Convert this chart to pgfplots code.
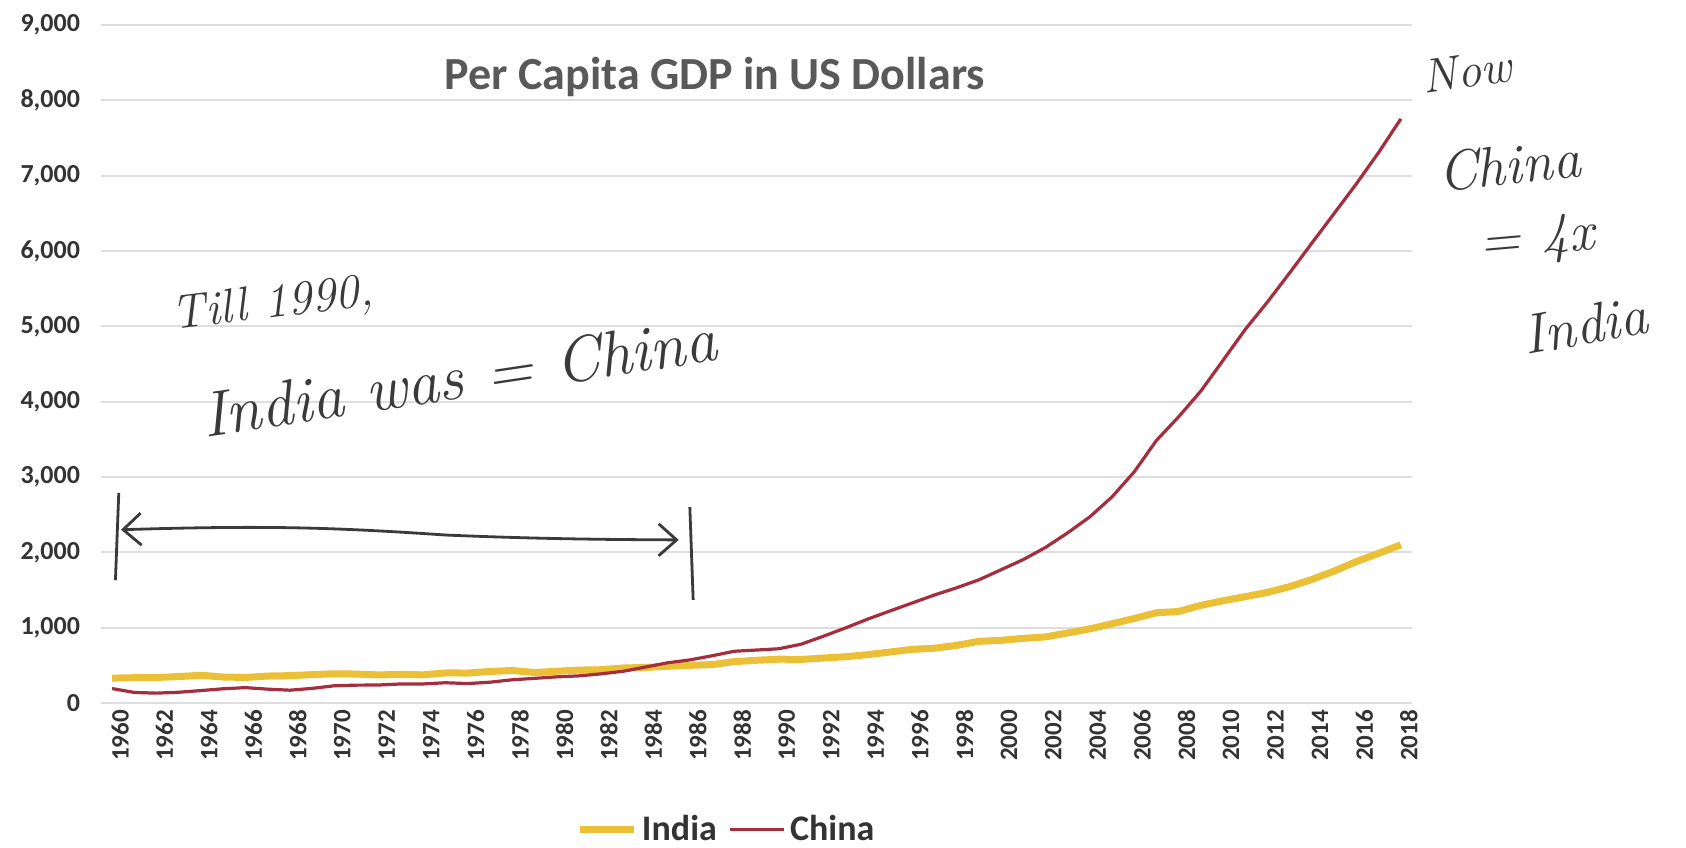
\documentclass[border=0pt]{standalone}
\usepackage{fontspec}
\setmainfont{Carlito}
\newfontfamily\hand{Latin Modern Roman}
\usepackage{pgfplots}
\usepackage{pgfplotstable}
\pgfplotsset{compat=1.18}
\usetikzlibrary{arrows.meta}
\definecolor{indiac}{HTML}{EBBF36}
\definecolor{chinac}{HTML}{A52E3E}
\definecolor{gridc}{HTML}{DEDEDE}
\definecolor{tickc}{HTML}{333333}
\definecolor{titlec}{HTML}{595959}
\definecolor{handc}{HTML}{3A3A3A}

\pgfplotstableread{
year gdp
1960 330
1961 336
1962 339
1963 351
1964 368
1965 345
1966 339
1967 358
1968 363
1969 377
1970 388
1971 384
1972 373
1973 380
1974 374
1975 399
1976 398
1977 418
1978 432
1979 405
1980 421
1981 437
1982 442
1983 465
1984 472
1985 487
1986 500
1987 510
1988 549
1989 567
1990 582
1991 578
1992 597
1993 614
1994 642
1995 676
1996 712
1997 727
1998 765
1999 818
2000 832
2001 858
2002 877
2003 930
2004 984
2005 1052
2006 1122
2007 1198
2008 1215
2009 1296
2010 1358
2011 1412
2012 1469
2013 1545
2014 1640
2015 1752
2016 1878
2017 1987
2018 2100
}\india

\pgfplotstableread{
year gdp
1960 192
1961 140
1962 131
1963 143
1964 165
1965 189
1966 204
1967 184
1968 170
1969 194
1970 229
1971 237
1972 239
1973 253
1974 253
1975 269
1976 258
1977 276
1978 308
1979 327
1980 347
1981 360
1982 387
1983 421
1984 477
1985 534
1986 572
1987 627
1988 687
1989 703
1990 720
1991 780
1992 885
1993 996
1994 1113
1995 1221
1996 1327
1997 1433
1998 1529
1999 1634
2000 1768
2001 1903
2002 2064
2003 2258
2004 2471
2005 2736
2006 3069
2007 3486
2008 3800
2009 4142
2010 4550
2011 4961
2012 5325
2013 5712
2014 6108
2015 6500
2016 6894
2017 7309
2018 7755
}\china

\begin{document}
\begin{tikzpicture}
\begin{axis}[
  scale only axis,
  width=655.5pt, height=339pt,
  xmin=1959.5, xmax=2018.5, ymin=0, ymax=9000,
  axis line style={draw=none},
  clip=false,
  xtick={1960,1962,...,2018},
  ytick={0,1000,...,9000},
  ymajorgrids,
  grid style={gridc, line width=0.9pt},
  major tick length=0pt,
  /pgf/number format/assume math mode=true,
  x tick label style={/pgf/number format/1000 sep={}, rotate=90, anchor=east,
    font=\fontsize{12.5}{14}\selectfont\bfseries, text=tickc, yshift=-4pt},
  y tick label style={/pgf/number format/1000 sep={,},
    font=\fontsize{13}{15}\selectfont\bfseries, text=tickc, xshift=-7pt},
  legend style={at={(0.478,-0.187)}, anchor=center, draw=none, fill=none,
    legend columns=2, font=\fontsize{18}{20}\selectfont\bfseries, text=tickc,
    /tikz/every even column/.append style={column sep=4pt}},
  legend image code/.code={\draw[#1] (0pt,0pt) -- (27pt,0pt);},
]
\addplot[indiac, line width=3.5pt, line join=round] table[x=year, y=gdp] {\india};
\addlegendentry{India}
\addplot[chinac, line width=1.6pt, line join=round] table[x=year, y=gdp] {\china};
\addlegendentry{China}

% hand-drawn arrow and bars
\draw[handc, line width=1.4pt] (axis cs:1960.15,1630) -- (axis cs:1960.3,2790);
\draw[handc, line width=1.4pt] (axis cs:1986.0,2600) -- (axis cs:1986.15,1370);
\draw[handc, line width=1.4pt, {Straight Barb[length=9pt,width=16pt]}-{Straight Barb[length=9pt,width=16pt]}]
  (axis cs:1960.4,2300) .. controls (axis cs:1967,2360) and (axis cs:1970,2330) ..
  (axis cs:1975,2230) .. controls (axis cs:1979,2180) and (axis cs:1982,2170) .. (axis cs:1985.5,2165);
\end{axis}

\node[font=\fontsize{23}{25}\selectfont\bfseries, text=titlec] at (307pt,313pt) {Per Capita GDP in US Dollars};

\begin{scope}[every node/.style={text=handc, inner sep=0pt}]
\node[font=\hand\itshape\fontsize{24}{26}\selectfont, rotate=7] at (86pt,199pt) {Till 1990,};
\node[font=\hand\itshape\fontsize{32}{34}\selectfont, rotate=8.5] at (179pt,163pt) {India was = China};
\node[font=\hand\itshape\fontsize{24}{26}\selectfont, rotate=8] at (683pt,316pt) {Now};
\node[font=\hand\itshape\fontsize{28}{30}\selectfont, rotate=6] at (704pt,269pt) {China};
\node[font=\hand\itshape\fontsize{28}{30}\selectfont, rotate=5] at (718pt,231pt) {= 4x};
\node[font=\hand\itshape\fontsize{28}{30}\selectfont, rotate=10] at (742pt,189pt) {India};
\end{scope}

\pgfresetboundingbox
\path[use as bounding box] (-50.5pt,-72pt) rectangle (792.5pt,351.5pt);
\end{tikzpicture}
\end{document}
